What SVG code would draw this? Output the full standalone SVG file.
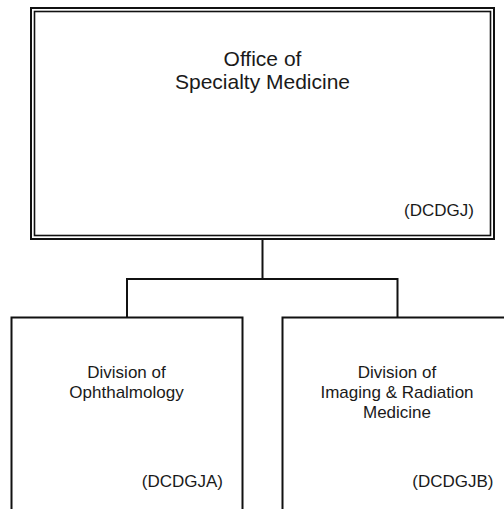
<svg xmlns="http://www.w3.org/2000/svg" width="504" height="509" viewBox="0 0 504 509">
<style>
.box{fill:#fff;stroke:#111;stroke-width:2}
.inner{fill:none;stroke:#111;stroke-width:1.6}
.conn{fill:none;stroke:#111;stroke-width:2}
text{font-family:"Liberation Sans",Arial,sans-serif;fill:#1a1a1a}
.t1{font-size:21px;text-anchor:middle}
.t2{font-size:17px;text-anchor:middle}
.code{font-size:17px;text-anchor:end}
</style>
<rect width="504" height="509" fill="#fff"/>
<g id="connectors">
<polyline class="conn" points="262.5,239 262.5,279"/>
<polyline class="conn" points="127,317 127,279 397.5,279 397.5,317"/>
</g>
<g id="office">
<rect class="box" x="31" y="8" width="463" height="231"/>
<rect class="inner" x="34.5" y="11.5" width="456" height="224"/>
<text class="t1" x="262.5" y="65.5">Office of</text>
<text class="t1" x="262.5" y="88.5">Specialty Medicine</text>
<text class="code" x="474" y="216">(DCDGJ)</text>
</g>
<g id="ophthalmology">
<rect class="box" x="11.5" y="317.5" width="231" height="200"/>
<text class="t2" x="126.5" y="377.5">Division of</text>
<text class="t2" x="126.5" y="397.5">Ophthalmology</text>
<text class="code" x="223" y="486.5">(DCDGJA)</text>
</g>
<g id="imaging">
<rect class="box" x="282.5" y="317.5" width="230" height="200"/>
<text class="t2" x="397" y="377.5">Division of</text>
<text class="t2" x="397" y="397.5">Imaging &amp; Radiation</text>
<text class="t2" x="397" y="417.5">Medicine</text>
<text class="code" x="493.5" y="486.5">(DCDGJB)</text>
</g>
</svg>
